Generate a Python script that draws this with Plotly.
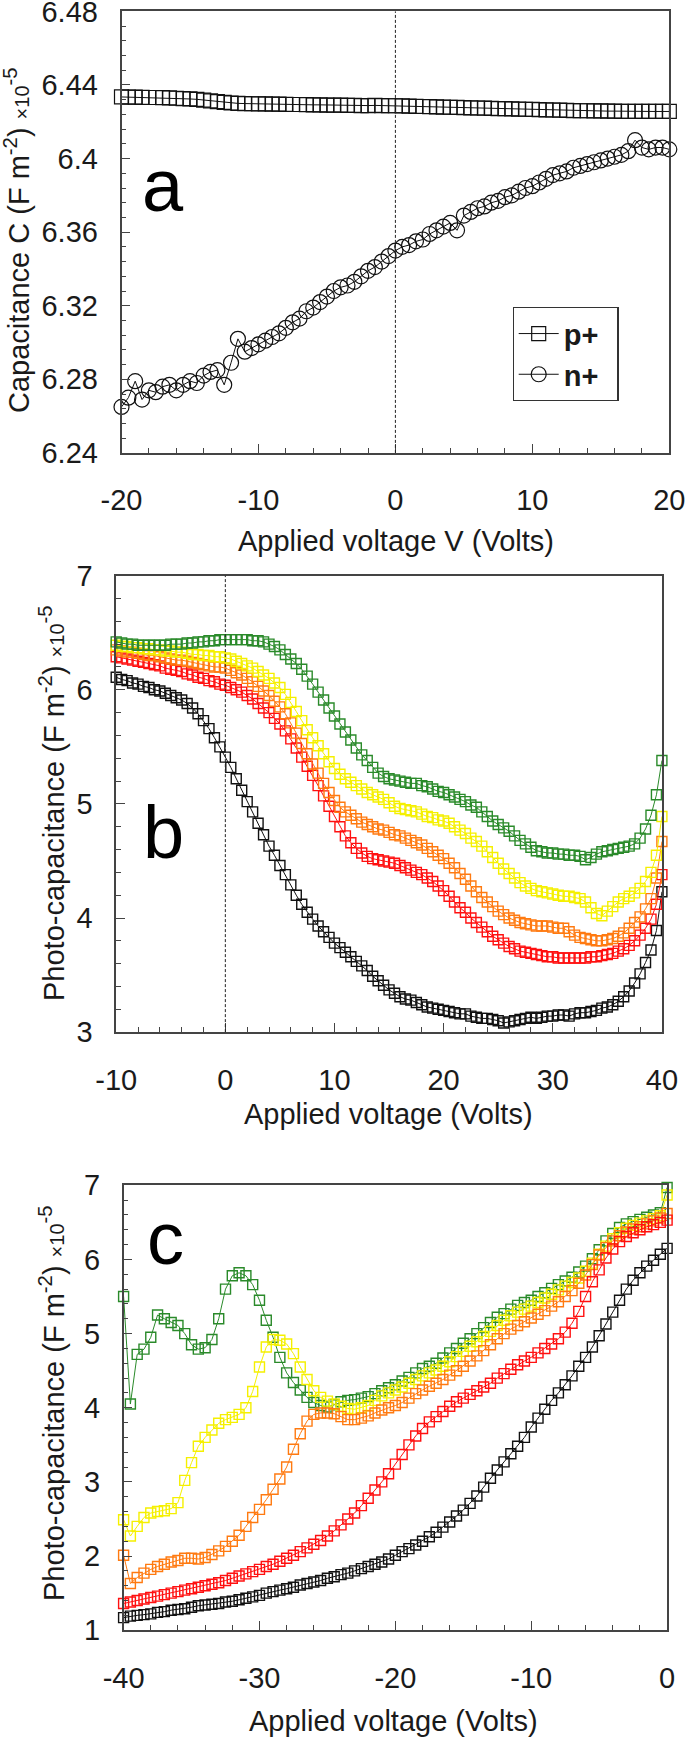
import plotly.graph_objects as go

# ---------------- DATA ----------------
# Panel a : capacitance vs applied voltage (x 1e-5 F m^-2)
V_A = [round(-20 + 0.5 * i, 1) for i in range(81)]
P_PLUS = [6.4335, 6.4334, 6.4334, 6.4333, 6.4332, 6.4332, 6.4331, 6.4330, 6.4328,
          6.4326, 6.4324, 6.4322, 6.4318, 6.4314, 6.4310, 6.4306, 6.4302,
          6.4300, 6.4299, 6.4298, 6.4297, 6.4297, 6.4296, 6.4296, 6.4295,
          6.4294, 6.4294, 6.4293, 6.4292, 6.4292, 6.4291, 6.4290, 6.4290,
          6.4289, 6.4289, 6.4288, 6.4288, 6.4289, 6.4288, 6.4287, 6.4287,
          6.4286, 6.4285, 6.4284, 6.4283, 6.4282, 6.4281, 6.4280, 6.4279,
          6.4278, 6.4277, 6.4276, 6.4275, 6.4274, 6.4273, 6.4272, 6.4271,
          6.4270, 6.4269, 6.4268, 6.4267, 6.4266, 6.4265, 6.4264, 6.4263,
          6.4262, 6.4261, 6.4260, 6.4260, 6.4259, 6.4259, 6.4258, 6.4258,
          6.4257, 6.4257, 6.4257, 6.4256, 6.4256, 6.4256, 6.4256, 6.4256]
N_PLUS = [6.265, 6.270, 6.279, 6.269, 6.274, 6.273, 6.276, 6.277, 6.274,
          6.277, 6.279, 6.278, 6.282, 6.284, 6.285, 6.277, 6.289,
          6.302, 6.295, 6.297, 6.299, 6.301, 6.303, 6.305, 6.308,
          6.311, 6.313, 6.317, 6.319, 6.322, 6.325, 6.328, 6.330,
          6.331, 6.333, 6.336, 6.339, 6.341, 6.344, 6.347, 6.350,
          6.352, 6.353, 6.355, 6.356, 6.359, 6.361, 6.363, 6.365,
          6.361, 6.369, 6.371, 6.373, 6.374, 6.376, 6.377, 6.379,
          6.380, 6.382, 6.384, 6.385, 6.387, 6.389, 6.391, 6.392,
          6.393, 6.395, 6.396, 6.397, 6.398, 6.399, 6.400, 6.401,
          6.402, 6.404, 6.410, 6.406, 6.405, 6.406, 6.406, 6.405]

# Panel b : photo-capacitance, -10..40 V
V_B = [round(-10 + 0.5 * i, 1) for i in range(101)]
B_GREEN = [6.42, 6.41, 6.40, 6.40, 6.39, 6.39, 6.39, 6.39, 6.39, 6.39,
           6.40, 6.40, 6.40, 6.41, 6.41, 6.42, 6.42, 6.43, 6.43, 6.44,
           6.44, 6.44, 6.44, 6.44, 6.44, 6.43, 6.43, 6.42, 6.40, 6.38,
           6.35, 6.31, 6.27, 6.23, 6.18, 6.12, 6.05, 5.98, 5.91, 5.84,
           5.77, 5.70, 5.63, 5.56, 5.49, 5.43, 5.38, 5.32, 5.27, 5.24,
           5.22, 5.21, 5.20, 5.19, 5.18, 5.18, 5.16, 5.15, 5.13, 5.11,
           5.10, 5.08, 5.06, 5.04, 5.02, 4.99, 4.97, 4.93, 4.89, 4.85,
           4.82, 4.79, 4.76, 4.72, 4.68, 4.65, 4.62, 4.59, 4.58, 4.57,
           4.57, 4.56, 4.56, 4.55, 4.55, 4.54, 4.51, 4.53, 4.56, 4.58,
           4.59, 4.60, 4.61, 4.62, 4.63, 4.65, 4.70, 4.78, 4.90, 5.08,
           5.38]
B_YELLOW = [6.39, 6.38, 6.38, 6.37, 6.37, 6.36, 6.36, 6.35, 6.35, 6.34,
            6.34, 6.33, 6.33, 6.32, 6.31, 6.31, 6.30, 6.30, 6.29, 6.29,
            6.28, 6.27, 6.25, 6.23, 6.21, 6.19, 6.16, 6.13, 6.10, 6.06,
            6.02, 5.96, 5.89, 5.81, 5.73, 5.65, 5.58, 5.51, 5.44, 5.37,
            5.31, 5.26, 5.22, 5.19, 5.16, 5.13, 5.10, 5.08, 5.06, 5.04,
            5.01, 4.98, 4.96, 4.95, 4.94, 4.93, 4.91, 4.89, 4.88, 4.86,
            4.85, 4.83, 4.80, 4.77, 4.74, 4.70, 4.67, 4.63, 4.58, 4.53,
            4.48, 4.43, 4.39, 4.35, 4.31, 4.28, 4.26, 4.24, 4.23, 4.22,
            4.21, 4.20, 4.19, 4.19, 4.18, 4.17, 4.14, 4.09, 4.04, 4.02,
            4.06, 4.10, 4.14, 4.17, 4.19, 4.22, 4.26, 4.32, 4.40, 4.55,
            4.89]
B_ORANGE = [6.35, 6.34, 6.33, 6.33, 6.32, 6.31, 6.30, 6.30, 6.29, 6.28,
            6.27, 6.26, 6.26, 6.25, 6.24, 6.23, 6.22, 6.21, 6.20, 6.20,
            6.19, 6.17, 6.15, 6.13, 6.10, 6.07, 6.03, 5.99, 5.95, 5.90,
            5.85, 5.79, 5.71, 5.62, 5.53, 5.44, 5.35, 5.27, 5.18, 5.10,
            5.03, 4.97, 4.93, 4.90, 4.87, 4.84, 4.82, 4.80, 4.78, 4.77,
            4.75, 4.73, 4.72, 4.70, 4.68, 4.66, 4.64, 4.61, 4.58, 4.55,
            4.52, 4.48, 4.44, 4.39, 4.34, 4.28, 4.23, 4.18, 4.14, 4.10,
            4.06, 4.03, 4.00, 3.98, 3.96, 3.95, 3.94, 3.93, 3.93, 3.93,
            3.92, 3.91, 3.91, 3.88, 3.85, 3.83, 3.82, 3.81, 3.80, 3.80,
            3.81, 3.82, 3.84, 3.87, 3.91, 3.96, 4.01, 4.08, 4.17, 4.35,
            4.67]
B_RED = [6.29, 6.28, 6.27, 6.26, 6.25, 6.24, 6.23, 6.22, 6.21, 6.19,
         6.18, 6.17, 6.16, 6.14, 6.13, 6.11, 6.10, 6.08, 6.07, 6.05,
         6.04, 6.02, 6.00, 5.98, 5.95, 5.92, 5.88, 5.84, 5.80, 5.75,
         5.70, 5.64, 5.57, 5.49, 5.41, 5.33, 5.25, 5.16, 5.07, 4.98,
         4.89, 4.80, 4.72, 4.66, 4.61, 4.57, 4.54, 4.52, 4.51, 4.50,
         4.49, 4.48, 4.46, 4.44, 4.42, 4.40, 4.38, 4.35, 4.32, 4.28,
         4.24, 4.19, 4.14, 4.09, 4.05, 4.00, 3.96, 3.92, 3.88, 3.84,
         3.81, 3.78, 3.75, 3.73, 3.71, 3.70, 3.69, 3.68, 3.67, 3.66,
         3.66, 3.65, 3.65, 3.65, 3.65, 3.65, 3.65, 3.66, 3.66, 3.67,
         3.68, 3.69, 3.71, 3.73, 3.76, 3.80, 3.85, 3.91, 3.99, 4.12,
         4.38]
B_BLACK = [6.11, 6.09, 6.08, 6.06, 6.05, 6.03, 6.02, 6.00, 5.99, 5.97,
           5.95, 5.93, 5.91, 5.88, 5.84, 5.79, 5.73, 5.66, 5.58, 5.50,
           5.41, 5.32, 5.22, 5.12, 5.02, 4.93, 4.83, 4.73, 4.63, 4.55,
           4.46, 4.38, 4.29, 4.20, 4.12, 4.05, 3.99, 3.93, 3.88, 3.83,
           3.78, 3.74, 3.70, 3.66, 3.62, 3.58, 3.54, 3.49, 3.45, 3.41,
           3.37, 3.34, 3.31, 3.29, 3.28, 3.26, 3.24, 3.22, 3.21, 3.20,
           3.19, 3.18, 3.17, 3.16, 3.16, 3.14, 3.13, 3.12, 3.12, 3.11,
           3.10, 3.08, 3.09, 3.10, 3.11, 3.12, 3.13, 3.12, 3.13, 3.14,
           3.14, 3.15, 3.15, 3.14, 3.16, 3.17, 3.17, 3.18, 3.19, 3.21,
           3.22, 3.24, 3.27, 3.31, 3.36, 3.43, 3.51, 3.61, 3.72, 3.89,
           4.23]

# Panel c : photo-capacitance, -40..0 V
V_C = [round(-40 + 0.5 * i, 1) for i in range(81)]
C_GREEN = [5.50, 4.05, 4.72, 4.79, 4.95, 5.25, 5.20, 5.15, 5.11, 5.00,
           4.85, 4.79, 4.81, 4.92, 5.20, 5.60, 5.78, 5.82, 5.78, 5.66,
           5.45, 5.18, 4.95, 4.68, 4.47, 4.34, 4.24, 4.14, 4.07, 4.03,
           4.01, 4.04, 4.08, 4.10, 4.11, 4.13, 4.15, 4.19, 4.23, 4.27,
           4.31, 4.36, 4.41, 4.47, 4.53, 4.56, 4.60, 4.67, 4.74, 4.80,
           4.87, 4.93, 5.00, 5.08, 5.15, 5.22, 5.27, 5.33, 5.38, 5.42,
           5.45, 5.50, 5.55, 5.61, 5.66, 5.71, 5.76, 5.83, 5.91, 6.01,
           6.13, 6.25, 6.35, 6.43, 6.48, 6.51, 6.54, 6.57, 6.60, 6.63,
           6.97]
C_YELLOW = [2.49, 2.27, 2.40, 2.52, 2.58, 2.60, 2.61, 2.64, 2.72, 3.02,
            3.26, 3.48, 3.60, 3.70, 3.79, 3.84, 3.87, 3.91, 4.00, 4.22,
            4.55, 4.82, 4.92, 4.91, 4.86, 4.73, 4.55, 4.38, 4.23, 4.14,
            4.09, 4.05, 4.02, 3.99, 3.98, 4.00, 4.03, 4.10, 4.16, 4.20,
            4.24, 4.28, 4.33, 4.38, 4.43, 4.47, 4.51, 4.56, 4.62, 4.69,
            4.76, 4.83, 4.89, 4.96, 5.03, 5.11, 5.18, 5.24, 5.29, 5.33,
            5.37, 5.42, 5.48, 5.53, 5.59, 5.64, 5.69, 5.75, 5.84, 5.95,
            6.07, 6.18, 6.28, 6.36, 6.42, 6.46, 6.49, 6.52, 6.55, 6.59,
            6.87]
C_ORANGE = [2.01, 1.63, 1.71, 1.77, 1.82, 1.86, 1.89, 1.92, 1.94, 1.97,
            1.97, 1.96, 1.98, 2.02, 2.07, 2.13, 2.20, 2.28, 2.40, 2.52,
            2.63, 2.76, 2.90, 3.04, 3.20, 3.44, 3.65, 3.82, 3.91, 3.93,
            3.93, 3.92, 3.88, 3.84, 3.84, 3.86, 3.89, 3.93, 3.97, 4.00,
            4.03, 4.07, 4.13, 4.19, 4.24, 4.29, 4.33, 4.38, 4.44, 4.50,
            4.56, 4.63, 4.70, 4.77, 4.85, 4.93, 5.00, 5.06, 5.11, 5.16,
            5.21, 5.26, 5.31, 5.37, 5.43, 5.50, 5.58, 5.68, 5.79, 5.93,
            6.06, 6.16, 6.25, 6.32, 6.37, 6.41, 6.44, 6.48, 6.52, 6.56,
            6.62]
C_RED = [1.36, 1.38, 1.40, 1.42, 1.44, 1.46, 1.48, 1.50, 1.52, 1.54,
         1.56, 1.58, 1.60, 1.62, 1.64, 1.67, 1.70, 1.73, 1.76, 1.79,
         1.82, 1.86, 1.89, 1.93, 1.97, 2.01, 2.06, 2.11, 2.16, 2.21,
         2.27, 2.34, 2.42, 2.50, 2.58, 2.68, 2.78, 2.89, 3.00, 3.11,
         3.24, 3.37, 3.50, 3.62, 3.72, 3.81, 3.88, 3.95, 4.02, 4.08,
         4.13, 4.18, 4.23, 4.28, 4.33, 4.40, 4.46, 4.52, 4.58, 4.63,
         4.68, 4.74, 4.80, 4.86, 4.93, 5.02, 5.14, 5.30, 5.50, 5.70,
         5.86, 6.02, 6.14, 6.24, 6.31, 6.36, 6.40, 6.44, 6.47, 6.50,
         6.53]
C_BLACK = [1.17, 1.19, 1.20, 1.21, 1.22, 1.24, 1.25, 1.27, 1.28, 1.29,
           1.31, 1.33, 1.34, 1.35, 1.36, 1.38, 1.39, 1.41, 1.43, 1.45,
           1.47, 1.50, 1.52, 1.54, 1.56, 1.58, 1.61, 1.63, 1.65, 1.67,
           1.70, 1.72, 1.75, 1.77, 1.80, 1.83, 1.86, 1.89, 1.92, 1.96,
           2.01, 2.06, 2.10, 2.15, 2.20, 2.26, 2.32, 2.39, 2.46, 2.54,
           2.62, 2.71, 2.81, 2.93, 3.05, 3.16, 3.27, 3.38, 3.48, 3.60,
           3.74, 3.86, 3.98, 4.10, 4.20, 4.31, 4.43, 4.56, 4.68, 4.82,
           4.97, 5.13, 5.29, 5.45, 5.60, 5.72, 5.82, 5.91, 5.99, 6.07,
           6.15]

# tick values / labels
XT_A = [-20, -10, 0, 10, 20]
XT_A_LBL = ["-20", "-10", "0", "10", "20"]
XT_B = [-10, 0, 10, 20, 30, 40]
XT_B_LBL = ["-10", "0", "10", "20", "30", "40"]
XT_C = [-40, -30, -20, -10, 0]
XT_C_LBL = ["-40", "-30", "-20", "-10", "0"]

# ---------------- STYLE ----------------
FONT = "Liberation Sans, Arial, sans-serif"
TXT = "#1a1a1a"
AXC = "#444444"
GREEN = "#2a8a2a"
YELLOW = "#f5f000"
ORANGE = "#ff7a10"
RED = "#ff1010"
BLACK = "#111111"
FS = 29

W, H = 685, 1737

fig = go.Figure()


def px_x(p):
    return p / W


def px_y(p):
    return 1 - p / H


PAD = "\u00a0\u2009"

# Panel a
fig.add_trace(go.Scatter(x=V_A, y=P_PLUS, mode="lines+markers", name="<b>p+</b>" + PAD,
                         line=dict(color=BLACK, width=1),
                         marker=dict(symbol="square-open", size=14, color=BLACK, line=dict(width=1.2)),
                         xaxis="x", yaxis="y", cliponaxis=False, legendgroup="p"))
fig.add_trace(go.Scatter(x=V_A, y=N_PLUS, mode="lines+markers", name="<b>n+</b>" + PAD,
                         line=dict(color=BLACK, width=1),
                         marker=dict(symbol="circle-open", size=15, color=BLACK, line=dict(width=1.2)),
                         xaxis="x", yaxis="y", cliponaxis=False, legendgroup="n"))

# Panel b
for ys, c in [(B_BLACK, BLACK), (B_RED, RED), (B_ORANGE, ORANGE), (B_YELLOW, YELLOW), (B_GREEN, GREEN)]:
    fig.add_trace(go.Scatter(x=V_B, y=ys, mode="lines+markers", showlegend=False,
                             line=dict(color=c, width=1),
                             marker=dict(symbol="square-open", size=10, color=c, line=dict(width=1.4)),
                             xaxis="x2", yaxis="y2", cliponaxis=False))

# Panel c
for ys, c in [(C_BLACK, BLACK), (C_GREEN, GREEN), (C_YELLOW, YELLOW), (C_ORANGE, ORANGE), (C_RED, RED)]:
    fig.add_trace(go.Scatter(x=V_C, y=ys, mode="lines+markers", showlegend=False,
                             line=dict(color=c, width=1),
                             marker=dict(symbol="square-open", size=10, color=c, line=dict(width=1.4)),
                             xaxis="x3", yaxis="y3", cliponaxis=False))


def xax(domain, rng, anchor, tv, tt):
    return dict(domain=domain, range=rng, anchor=anchor, tickmode="array", tickvals=tv, ticktext=tt,
                ticks="inside", ticklen=9, tickwidth=1.3, tickcolor=AXC,
                minor=dict(tickmode="linear", tick0=0, dtick=2, ticks="inside", ticklen=5,
                           tickwidth=1.2, tickcolor=AXC),
                showline=True, linecolor=AXC, linewidth=1.5, mirror=True,
                showgrid=False, zeroline=False, automargin=False, ticklabeloverflow="allow",
                tickfont=dict(family=FONT, size=FS, color=TXT),
                ticklabelstandoff=21)


def yax(domain, rng, anchor, dt, mdt):
    return dict(domain=domain, range=rng, anchor=anchor, dtick=dt, tick0=rng[0],
                ticks="inside", ticklen=9, tickwidth=1.3, tickcolor=AXC,
                minor=dict(dtick=mdt, tick0=rng[0], ticks="inside", ticklen=5, tickwidth=1.2, tickcolor=AXC),
                showline=True, linecolor=AXC, linewidth=1.5, mirror=True,
                showgrid=False, zeroline=False, automargin=False, ticklabeloverflow="allow",
                tickfont=dict(family=FONT, size=FS, color=TXT),
                ticklabelstandoff=16)


layout = dict(
    width=W, height=H,
    margin=dict(l=0, r=0, t=0, b=0, autoexpand=False),
    paper_bgcolor="white", plot_bgcolor="white",
    font=dict(family=FONT, color=TXT),
    xaxis=xax([px_x(121.5), px_x(669.3)], [-20, 20], "y", XT_A, XT_A_LBL),
    yaxis=yax([px_y(452.9), px_y(11.4)], [6.24, 6.48], "x", 0.04, 0.008),
    xaxis2=xax([px_x(116.2), px_x(661.9)], [-10, 40], "y2", XT_B, XT_B_LBL),
    yaxis2=yax([px_y(1032.1), px_y(575.7)], [3, 7], "x2", 1, 0.2),
    xaxis3=xax([px_x(123.6), px_x(667.1)], [-40, 0], "y3", XT_C, XT_C_LBL),
    yaxis3=yax([px_y(1630.2), px_y(1185.3)], [1, 7], "x3", 1, 0.2),
    showlegend=True,
    legend=dict(x=px_x(512.5), y=px_y(307), xanchor="left", yanchor="top",
                bordercolor="#333333", borderwidth=1.2, bgcolor="white",
                font=dict(family=FONT, size=29, color=TXT),
                traceorder="grouped", tracegroupgap=0, itemwidth=40),
)
fig.update_layout(**layout)

# dashed zero lines
fig.add_shape(type="line", xref="x", yref="y domain", x0=0, x1=0, y0=0, y1=1,
              line=dict(color="#222222", width=1, dash="3px,2px"))
fig.add_shape(type="line", xref="x2", yref="y2 domain", x0=0, x1=0, y0=0, y1=1,
              line=dict(color="#222222", width=1, dash="3px,2px"))

# axis titles
small = "<span style='font-size:20px'>×10</span><sup>-5</sup>"
titles = [
    ("Applied voltage V (Volts)", 396, 541, 0),
    ("Applied voltage (Volts)", 388, 1114, 0),
    ("Applied voltage (Volts)", 393, 1721, 0),
    ("Capacitance C (F m<sup>-2</sup>) " + small, 17, 240, -90),
    ("Photo-capacitance (F m<sup>-2</sup>) " + small, 52, 803, -90),
    ("Photo-capacitance (F m<sup>-2</sup>) " + small, 52, 1403, -90),
]
for t, x, y, ang in titles:
    fig.add_annotation(text=t, xref="paper", yref="paper", x=px_x(x), y=px_y(y),
                       xanchor="center", yanchor="middle", showarrow=False, textangle=ang,
                       font=dict(family=FONT, size=FS, color=TXT))

# panel letters
for t, x, y in [("a", 163, 186), ("b", 163, 832), ("c", 165, 1238)]:
    fig.add_annotation(text=t, xref="paper", yref="paper", x=px_x(x), y=px_y(y),
                       xanchor="center", yanchor="middle", showarrow=False,
                       font=dict(family=FONT, size=74, color="#000000"))

fig.write_html("out.html", config={"displayModeBar": False},
               post_script="document.body.style.margin='0';document.body.style.padding='0';")
